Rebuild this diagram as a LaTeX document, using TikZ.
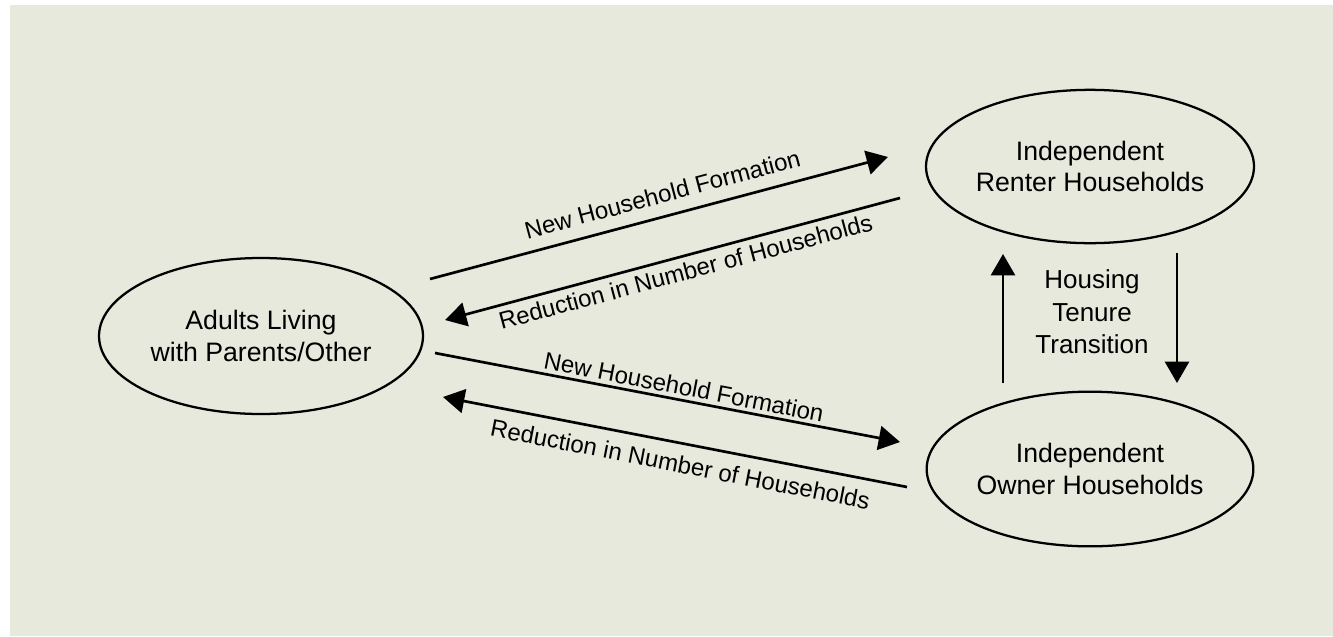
\documentclass[tikz,border=0pt]{standalone}
\usepackage{fontspec}
\setmainfont{Liberation Sans}
\usetikzlibrary{shapes.geometric,arrows.meta}
\definecolor{bgsage}{RGB}{230,233,220}
\begin{document}
\begin{tikzpicture}[x=0.75pt,y=-0.75pt,
  state/.style={ellipse,draw,line width=1.7pt,inner sep=0pt,align=center,font=\fontsize{20}{23.5}\selectfont},
  flow/.style={line width=2pt,-{Triangle[length=16pt,width=18pt]}},
  lab/.style={sloped,inner sep=0pt,font=\fontsize{18}{22}\selectfont}]
\useasboundingbox (0,0) rectangle (1333,636);
\fill[white] (0,0) rectangle (1333,636);
\fill[bgsage] (10,5) rectangle (1333,636);
\node[state,minimum width=243pt,minimum height=117pt] (adult) at (261,336) {Adults Living\\with Parents/Other};
\node[state,minimum width=246pt,minimum height=115pt] (renter) at (1090,166.5) {Independent\\Renter Households};
\node[state,minimum width=245pt,minimum height=116pt] (owner) at (1090,469) {Independent\\Owner Households};
\node[align=center,inner sep=0pt,font=\fontsize{19.5}{24.4}\selectfont] (tenure) at (1092,312) {Housing\\Tenure\\Transition};
\coordinate (a1) at (430,279);
\coordinate (r1) at (888,157);
\coordinate (r2) at (900,198);
\coordinate (a2) at (445,320);
\coordinate (a3) at (435,353);
\coordinate (o1) at (900,442);
\coordinate (o2) at (907,487);
\coordinate (a4) at (443,397);
\coordinate (o3) at (1003,383);
\coordinate (r3) at (1003,254);
\coordinate (r4) at (1177,253);
\coordinate (o4) at (1177,383);
\draw[flow] (a1) -- node[lab,pos=0.52,above=9pt] (l1) {New Household Formation} (r1);
\draw[flow] (r2) -- node[lab,pos=0.48,below=4pt] (l2) {Reduction in Number of Households} (a2);
\draw[flow] (a3) -- node[lab,pos=0.53,above=2.5pt] (l3) {New Household Formation} (o1);
\draw[flow] (o2) -- node[lab,pos=0.48,below=8pt] (l4) {Reduction in Number of Households} (a4);
\draw[flow] (o3) -- (r3);
\draw[flow] (r4) -- (o4);
\end{tikzpicture}
\end{document}
